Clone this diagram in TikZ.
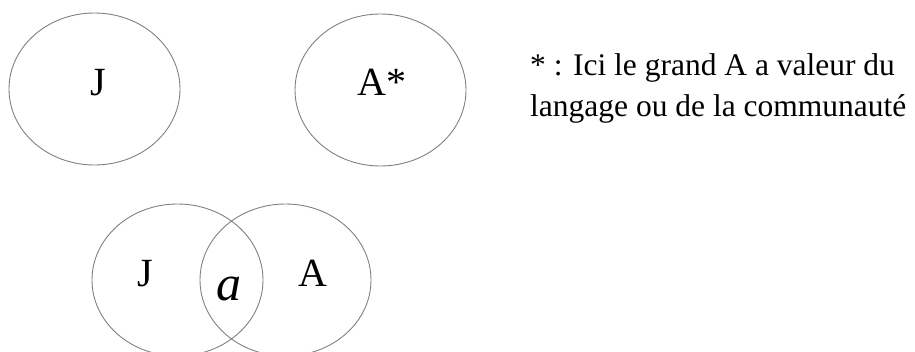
\documentclass[tikz,border=0pt]{standalone}
\usepackage{fontspec}
\setmainfont{Liberation Serif}
\usetikzlibrary{shapes.geometric}
\tikzset{
  ens/.style={draw=black!50, line width=0.9pt, ellipse, inner sep=0pt,
    minimum width=171pt, minimum height=152pt},
  lettre/.style={anchor=base, inner sep=0pt, font=\fontsize{40}{46}\selectfont},
  note/.style={anchor=base west, inner sep=0pt, font=\fontsize{31.5}{40}\selectfont}
}
\begin{document}
\begin{tikzpicture}[x=1pt,y=-1pt]
\useasboundingbox (0,0) rectangle (915,351);
\clip (0,0) rectangle (915,351);

\node[ens] (eJ) at (94.5,89) {}; % ensemble J
\node[ens] (eA) at (380.5,90) {}; % ensemble A*
\node[lettre] (lJ) at (98,95) {J};
\node[lettre] (lA) at (382,95) {A*};

\node[note] (n1) at (530,75) {* : Ici le grand A a valeur du};
\node[note] (n2) at (530,116) {langage ou de la communauté};

\node[ens] (bJ) at (177.5,280) {}; % intersection en bas
\node[ens] (bA) at (285.5,280) {};
\node[lettre] (cJ) at (145,286) {J};
\node[lettre] (cA) at (313,286) {A};
\node[lettre, font=\fontsize{50}{56}\selectfont\itshape] (ca) at (229,300) {a};

\end{tikzpicture}
\end{document}
